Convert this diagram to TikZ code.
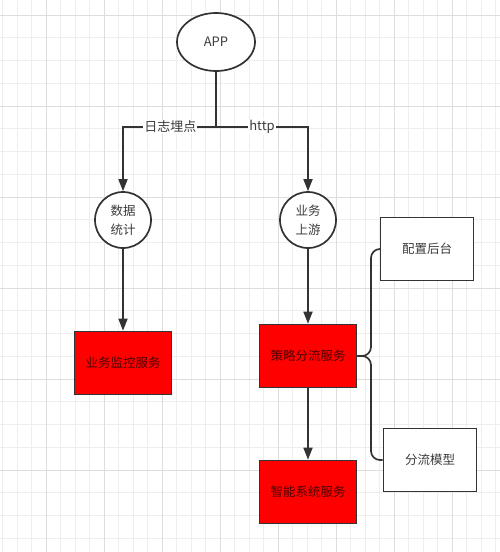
\documentclass[tikz,border=0pt]{standalone}
\usepackage{fontspec}
\setmainfont{Noto Sans CJK SC}
\usetikzlibrary{arrows.meta}
\definecolor{ln}{HTML}{333333}
\definecolor{tx}{HTML}{3C3C3C}
\definecolor{redf}{HTML}{FF0000}
\definecolor{gmin}{HTML}{EEEEEE}
\definecolor{gmaj}{HTML}{DDDDDD}
\tikzset{
  conn/.style={draw=ln, line width=1.7pt},
  arr/.style={conn, -{Triangle[length=12pt,width=9pt]}},
  oval/.style={ellipse, draw=ln, line width=1.7pt, fill=white, minimum width=78pt, minimum height=58pt, inner sep=0pt, text=tx, font=\fontsize{13}{15}\selectfont},
  circ/.style={circle, draw=ln, line width=1.7pt, fill=white, minimum size=56pt, inner sep=0pt, text=tx, align=center, font=\fontsize{12.5}{19}\selectfont},
  redbox/.style={rectangle, draw=ln, line width=1.7pt, fill=redf, minimum width=97pt, minimum height=63pt, inner sep=0pt, text=black!70!red, font=\fontsize{12.5}{15}\selectfont},
  whitebox/.style={rectangle, draw=ln, line width=1.7pt, fill=white, minimum width=93pt, minimum height=63pt, inner sep=0pt, text=tx, font=\fontsize{12.5}{15}\selectfont},
  lab/.style={fill=white, inner sep=1pt, text=tx, font=\fontsize{13}{15}\selectfont}
}
\usetikzlibrary{shapes.geometric}
\begin{document}
\begin{tikzpicture}[x=1pt,y=-1pt]
\useasboundingbox (0,0) rectangle (500,552);
\fill[white] (0,0) rectangle (500,552);
% grid
\foreach \i in {0,...,35} {\draw[gmin, line width=0.6pt] ({-12+14.5*\i},0) -- ({-12+14.5*\i},552);}
\foreach \i in {0,...,25} {\draw[gmin, line width=0.6pt] (0,{15+22.75*\i}) -- (500,{15+22.75*\i});}
\foreach \i in {0,...,9} {\draw[gmaj, line width=0.8pt] ({-12+58*\i},0) -- ({-12+58*\i},552);}
\foreach \i in {0,...,6} {\draw[gmaj, line width=0.8pt] (0,{15+91*\i}) -- (500,{15+91*\i});}

\node[oval] (app) at (216,42) {APP};
\node[circ] (c1) at (123,220) {数据\\统计};
\node[circ] (c2) at (308,220) {业务\\上游};
\node[redbox] (b1) at (123,363) {业务监控服务};
\node[redbox] (b2) at (308,356) {策略分流服务};
\node[redbox] (b3) at (308,492) {智能系统服务};
\node[whitebox] (w1) at (427,249) {配置后台};
\node[whitebox] (w2) at (430,460) {分流模型};

\coordinate (j) at (216,127);
\coordinate (bx) at (371,356);

\draw[conn] (app.south) -- (j);
\draw[arr] (j) -| node[pos=0.245, lab] {日志埋点} (c1.north);
\draw[arr] (j) -| node[pos=0.25, lab] {http} (c2.north);
\draw[arr] (c1.south) -- (b1.north);
\draw[arr] (c2.south) -- (b2.north);
\draw[arr] (b2.south) -- (b3.north);
\draw[conn, rounded corners=9pt] (w1.west) -- (w1.west -| bx) -- (bx) -- (b2.east);
\draw[conn, rounded corners=9pt] (w2.west) -- (w2.west -| bx) -- (bx) -- (b2.east);
\end{tikzpicture}
\end{document}
